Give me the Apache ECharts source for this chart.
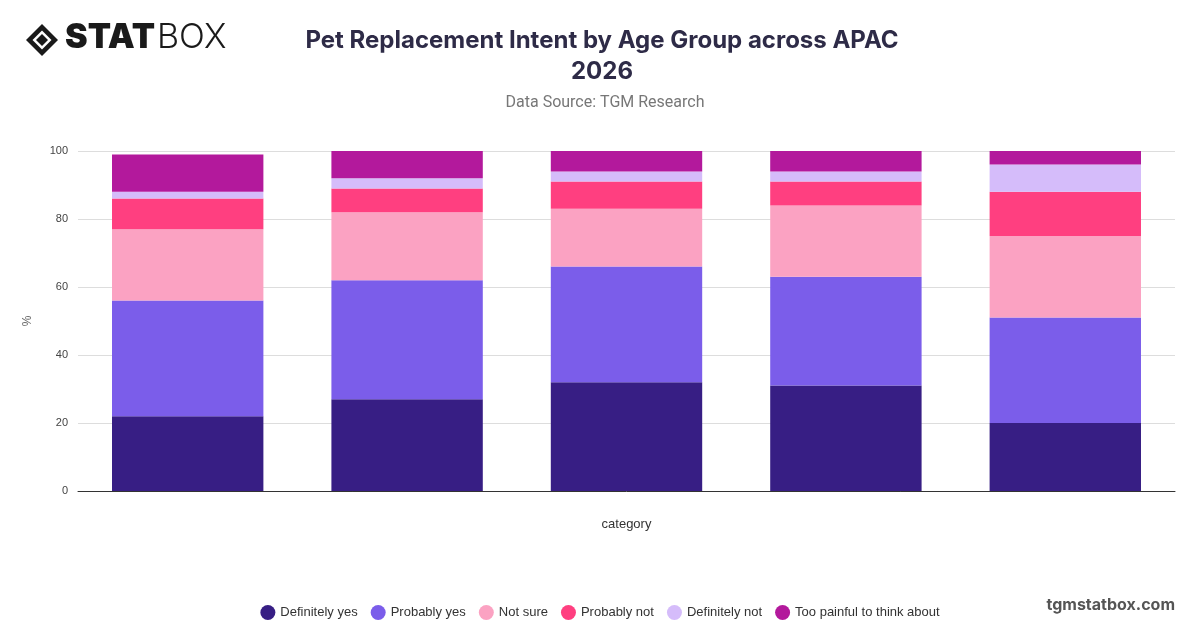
<!DOCTYPE html>
<html>
<head>
<meta charset="utf-8">
<script src="https://cdn.jsdelivr.net/npm/echarts@6/dist/echarts.min.js"></script>
<style>
html,body{margin:0;padding:0;background:#fff;}
#chart{width:1200px;height:628px;}
</style>
</head>
<body>
<div id="chart"></div>
<script>
const categories = ["18-24", "25-34", "35-44", "45-54", "55+"];
const seriesNames = ["Definitely yes", "Probably yes", "Not sure", "Probably not", "Definitely not", "Too painful to think about"];
const definitelyYes = [22, 27, 32, 31, 20];
const probablyYes = [34, 35, 34, 32, 31];
const notSure = [21, 20, 17, 21, 24];
const probablyNot = [9, 7, 8, 7, 13];
const definitelyNot = [2, 3, 3, 3, 8];
const tooPainful = [11, 8, 6, 6, 4];
const yTicks = [0, 20, 40, 60, 80, 100];

const colors = ["#371e84", "#7b5dea", "#fba2c2", "#ff3f80", "#d5bcfa", "#b3199c"];
const values = [definitelyYes, probablyYes, notSure, probablyNot, definitelyNot, tooPainful];

const chart = echarts.init(document.getElementById('chart'), null, {renderer: 'canvas'});
const option = {
  backgroundColor: '#fff',
  animation: false,
  color: colors,
  title: [
    {
      text: 'Pet Replacement Intent by Age Group across APAC\n2026',
      left: 597, top: 20, textAlign: 'center',
      textStyle: {fontFamily: 'Inter', fontSize: 24, fontWeight: 'bold', color: '#2e2b47', lineHeight: 31}
    },
    {
      text: 'Data Source: TGM Research',
      left: 600, top: 90, textAlign: 'center',
      textStyle: {fontFamily: 'Roboto', fontSize: 16, fontWeight: 'normal', color: '#777'}
    }
  ],
  graphic: [
    {type: 'group', left: 26, top: 24, children: [
      {type: 'polygon', shape: {points: [[16,0],[32,16],[16,32],[0,16]]}, style: {fill: '#1a1a1a'}},
      {type: 'polygon', shape: {points: [[16,6.5],[25.5,16],[16,25.5],[6.5,16]]}, style: {fill: '#fff'}},
      {type: 'polygon', shape: {points: [[16,10],[22,16],[16,22],[10,16]]}, style: {fill: '#1a1a1a'}}
    ]},
    {type: 'text', left: 65, top: 21, style: {text: 'STAT', fontFamily: 'Inter', fontWeight: 900, fontSize: 34, fill: '#1a1a1a'}},
    {type: 'text', left: 157, top: 21, style: {text: 'BOX', fontFamily: 'Inter', fontWeight: 300, fontSize: 34, fill: '#1a1a1a'}},
    {type: 'text', right: 25, top: 597, style: {text: 'tgmstatbox.com', fontFamily: 'Inter', fontWeight: 'bold', fontSize: 16, fill: '#555'}}
  ],
  legend: {
    data: seriesNames,
    bottom: 3, left: 'center',
    icon: 'circle', itemWidth: 15, itemHeight: 15, itemGap: 13,
    textStyle: {fontFamily: 'Liberation Sans', fontSize: 13, color: '#333'}
  },
  grid: {left: 78, right: 25, top: 151, bottom: 137, containLabel: false},
  xAxis: {
    type: 'category', data: categories,
    name: 'category', nameLocation: 'middle', nameGap: 27,
    nameTextStyle: {fontFamily: 'Liberation Sans', fontSize: 13, color: '#333'},
    axisLine: {lineStyle: {color: '#333'}},
    axisTick: {show: false},
    axisLabel: {show: false}
  },
  yAxis: {
    type: 'value', min: yTicks[0], max: yTicks[yTicks.length - 1], interval: 20,
    name: '%', nameLocation: 'middle', nameGap: 44,
    nameTextStyle: {fontFamily: 'Liberation Sans', fontSize: 12, color: '#666'},
    axisLabel: {fontFamily: 'Liberation Sans', fontSize: 11, color: '#444', margin: 10},
    axisLine: {show: false}, axisTick: {show: false},
    splitLine: {lineStyle: {color: '#ddd'}}
  },
  series: seriesNames.map((n, i) => ({
    name: n, type: 'bar', stack: 'total', barWidth: '69%',
    data: values[i],
    itemStyle: {color: colors[i]}
  }))
};
chart.setOption(option);
</script>
</body>
</html>
